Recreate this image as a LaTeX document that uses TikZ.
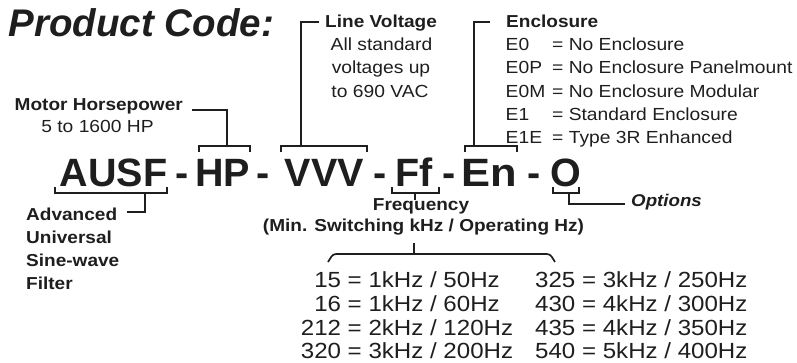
\documentclass[tikz,border=0pt]{standalone}
\usepackage{fontspec}
\setmainfont{Liberation Sans}
\newfontfamily\lbl{Liberation Sans}[FakeStretch=1.1]
\definecolor{ink}{HTML}{1E1E1E}
\begin{document}
\begin{tikzpicture}[x=1pt,y=-1pt,
  title/.style={inner sep=0, anchor=base west, text=ink, font=\fontsize{38.5}{42}\selectfont\bfseries\itshape},
  code/.style={inner sep=0, anchor=base west, text=ink, font=\fontsize{39.5}{44}\selectfont\bfseries},
  dashsym/.style={inner sep=0, anchor=base, text=ink, font=\fontsize{39.5}{44}\selectfont\bfseries},
  lab/.style={inner sep=0, text=ink, font=\lbl\fontsize{17.3}{20}\selectfont\bfseries},
  txt/.style={inner sep=0, text=ink, font=\lbl\fontsize{17.5}{20}\selectfont},
  tbl/.style={inner sep=0, text=ink, font=\lbl\fontsize{21.9}{24}\selectfont},
  brk/.style={draw=ink, line width=1.7pt}]
\useasboundingbox (0,0) rectangle (797,362);

% title
\node[title] (title) at (8.5,36) {Product Code:};

% main code
\node[code] (ausf) at (59.5,186) {AUSF};
\node[dashsym] (d1) at (182,186) {-};
\node[code] (hp) at (195,186) {HP};
\node[dashsym] (d2) at (263,186) {-};
\node[code] (vvv) at (284.5,186) {VVV};
\node[dashsym] (d3) at (380,186) {-};
\node[code] (ff) at (395,186) {Ff};
\node[dashsym] (d4) at (449,186) {-};
\node[code,font=\lbl\fontsize{39.5}{44}\selectfont\bfseries] (en) at (461,186) {En};
\node[dashsym] (d5) at (534,186) {-};
\node[code] (o) at (550.5,186) {O};

% motor horsepower
\node[lab, anchor=base east] (mhp) at (183,110) {Motor Horsepower};
\node[txt, anchor=base] (mhpv) at (97.5,132.5) {5 to 1600 HP};

% line voltage
\node[lab, anchor=base west] (lv) at (325,27) {Line Voltage};
\node[txt, anchor=base] (lv1) at (381.5,50.5) {All standard};
\node[txt, anchor=base] (lv2) at (381,73.5) {voltages up};
\node[txt, anchor=base] (lv3) at (380,97) {to 690 VAC};

% enclosure
\node[lab, anchor=base west] (enc) at (506,27) {Enclosure};
\node[txt, anchor=base west] (c1) at (505.5,50) {E0};
\node[txt, anchor=base west] (c2) at (505.5,73.5) {E0P};
\node[txt, anchor=base west] (c3) at (505.5,97) {E0M};
\node[txt, anchor=base west] (c4) at (505.5,120) {E1};
\node[txt, anchor=base west] (c5) at (505.5,143.5) {E1E};
\node[txt, anchor=base west] (e1) at (552,50) {= No Enclosure};
\node[txt, anchor=base west] (e2) at (552,73.5) {= No Enclosure Panelmount};
\node[txt, anchor=base west] (e3) at (552,97) {= No Enclosure Modular};
\node[txt, anchor=base west] (e4) at (552,120) {= Standard Enclosure};
\node[txt, anchor=base west] (e5) at (552,143.5) {= Type 3R Enhanced};

% AUSF description
\node[lab, anchor=base west] (a1) at (26,220) {Advanced};
\node[lab, anchor=base west] (a2) at (26,243) {Universal};
\node[lab, anchor=base west] (a3) at (26,266.5) {Sine-wave};
\node[lab, anchor=base west] (a4) at (26,289) {Filter};

% frequency
\node[lab, anchor=base] (fq) at (421,210) {Frequency};
\node[lab, anchor=base] (fq2) at (423.5,231.5) {(Min. Switching kHz / Operating Hz)};

% options
\node[lab, anchor=base west, font=\lbl\fontsize{17}{20}\selectfont\bfseries\itshape] (opt) at (631,206) {Options};

% frequency table
\node[tbl, anchor=base] (t1) at (407,287) {15 = 1kHz / 50Hz};
\node[tbl, anchor=base] (t2) at (407,311) {16 = 1kHz / 60Hz};
\node[tbl, anchor=base] (t3) at (407,335) {212 = 2kHz / 120Hz};
\node[tbl, anchor=base] (t4) at (407,358.5) {320 = 3kHz / 200Hz};
\node[tbl, anchor=base west] (t5) at (535,287) {325 = 3kHz / 250Hz};
\node[tbl, anchor=base west] (t6) at (535,311) {430 = 4kHz / 300Hz};
\node[tbl, anchor=base west] (t7) at (535,335) {435 = 4kHz / 350Hz};
\node[tbl, anchor=base west] (t8) at (535,358.5) {540 = 5kHz / 400Hz};

% brackets over
\draw[brk] (199,152) -- (199,146) -- (250,146) -- (250,152);
\draw[brk] (227,146) -- (227,110) -- (192,110);
\draw[brk] (281,152) -- (281,146) -- (367,146) -- (367,152);
\draw[brk] (301,146) -- (301,22) -- (319,22);
\draw[brk] (465,152) -- (465,146) -- (517,146) -- (517,152);
\draw[brk] (474,146) -- (474,22) -- (490,22);

% brackets under
\draw[brk] (55,187) -- (55,193) -- (167,193) -- (167,187);
\draw[brk] (145,193) -- (145,212) -- (127,212);
\draw[brk] (392,187) -- (392,193) -- (439,193) -- (439,187);
\draw[brk] (415,193) -- (415,200);
\draw[brk] (553,187) -- (553,193) -- (579,193) -- (579,187);
\draw[brk] (569,193) -- (569,204) -- (625,204);

% frequency table bracket
\draw[brk] (414,243) -- (414,254);
\draw[brk, rounded corners=3pt] (328,262) -- (333,254) -- (550,254) -- (555,262);
\end{tikzpicture}
\end{document}
